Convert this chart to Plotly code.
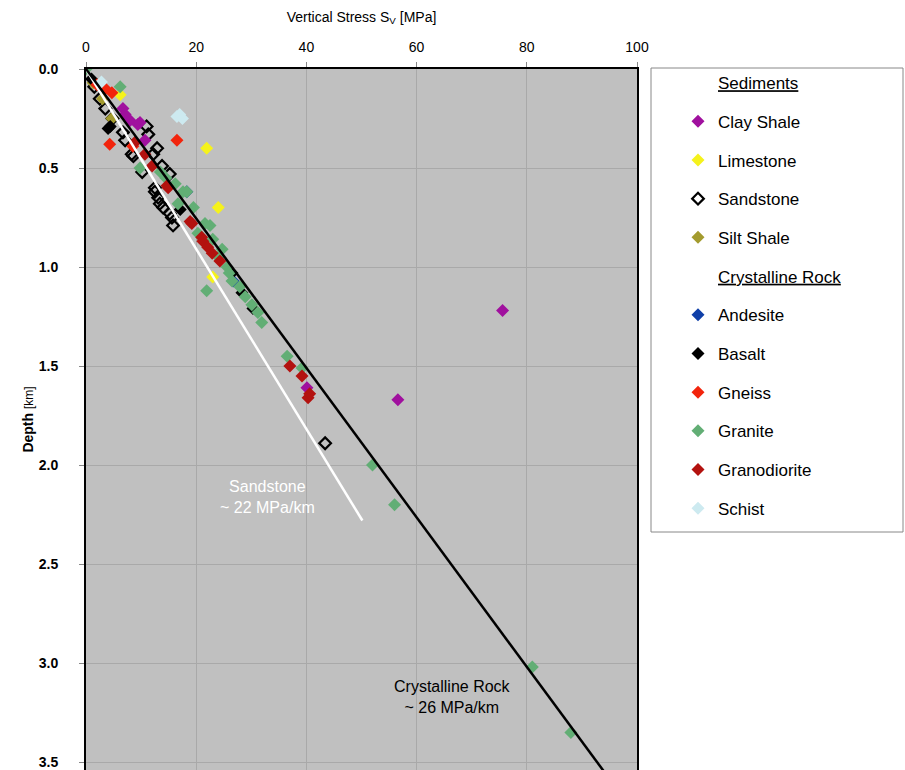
import plotly.graph_objects as go

# ---------------- data (stress in MPa, depth in km) ----------------
clay_shale_sv = [6.7, 7.1, 8.0, 9.4, 9.8, 10.7, 40.1, 56.6, 75.6]
clay_shale_z = [0.20, 0.23, 0.26, 0.28, 0.27, 0.36, 1.61, 1.67, 1.22]

limestone_sv = [6.2, 21.9, 24.0, 23.0]
limestone_z = [0.13, 0.40, 0.70, 1.05]

sandstone_sv = [1.5, 2.5, 3.5, 4.8, 6.7, 7.1, 8.3, 8.6, 10.2, 11.0, 11.3, 12.9, 12.2,
                12.5, 13.8, 15.2, 12.5, 13.1, 13.4, 14.0, 15.2, 15.6, 15.8, 43.4]
sandstone_z = [0.09, 0.15, 0.20, 0.25, 0.32, 0.36, 0.43, 0.44, 0.52, 0.29, 0.33, 0.40, 0.43,
               0.60, 0.49, 0.53, 0.62, 0.65, 0.68, 0.70, 0.73, 0.75, 0.79, 1.89]

silt_shale_sv = [1.3, 3.0, 4.7]
silt_shale_z = [0.07, 0.15, 0.25]

andesite_sv = [18.3, 26.7]
andesite_z = [0.62, 1.07]

basalt_sv = [1.0, 4.0, 4.4, 17.1, 26.5, 28.3, 30.3]
basalt_z = [0.05, 0.30, 0.29, 0.71, 1.03, 1.13, 1.21]

gneiss_sv = [2.0, 3.5, 4.7, 4.3, 8.5, 16.5]
gneiss_z = [0.08, 0.10, 0.12, 0.38, 0.39, 0.36]

granite_sv = [0.0, 6.2, 9.8, 13.5, 14.5, 16.2, 17.6, 18.3, 16.7, 19.5, 21.6, 22.5, 20.3,
              23.0, 24.0, 24.7, 25.6, 26.0, 26.5, 27.9, 21.9, 28.9, 30.1, 31.2, 31.9,
              36.5, 39.2, 52.0, 56.0, 81.0, 88.0]
granite_z = [0.00, 0.09, 0.50, 0.52, 0.55, 0.58, 0.62, 0.62, 0.68, 0.70, 0.78, 0.79, 0.83,
             0.86, 0.95, 0.91, 1.00, 1.03, 1.07, 1.10, 1.12, 1.15, 1.19, 1.23, 1.28,
             1.45, 1.51, 2.00, 2.20, 3.02, 3.35]

granodiorite_sv = [8.9, 10.7, 12.0, 14.7, 14.9, 18.9, 19.2, 21.0, 21.2, 22.1, 22.9, 24.3,
                   37.0, 39.2, 40.3, 40.6]
granodiorite_z = [0.37, 0.43, 0.49, 0.59, 0.60, 0.77, 0.78, 0.85, 0.87, 0.90, 0.93, 0.97,
                  1.50, 1.55, 1.66, 1.64]

schist_sv = [2.8, 16.5, 17.0, 17.5]
schist_z = [0.066, 0.24, 0.23, 0.25]

# gradient lines
crystalline_gradient = 26.5   # MPa/km
sandstone_gradient = 22.0     # MPa/km
crystalline_depths = [0.0, 3.6]
sandstone_depths = [0.0, 2.28]

x_ticks = [0, 20, 40, 60, 80, 100]
y_ticks = [0.0, 0.5, 1.0, 1.5, 2.0, 2.5, 3.0, 3.5]

FONT = "Liberation Sans, Arial, sans-serif"

fig = go.Figure()

# (name, x, y, color, symbol, legend rank)
series = [
    ("Sandstone", sandstone_sv, sandstone_z, "black", "diamond-open", 3),
    ("Clay Shale", clay_shale_sv, clay_shale_z, "#A0109E", "diamond", 1),
    ("Silt Shale", silt_shale_sv, silt_shale_z, "#A39B2E", "diamond", 4),
    ("Limestone", limestone_sv, limestone_z, "#F5F21C", "diamond", 2),
    ("Andesite", andesite_sv, andesite_z, "#1040A8", "diamond", 6),
    ("Basalt", basalt_sv, basalt_z, "black", "diamond", 7),
    ("Gneiss", gneiss_sv, gneiss_z, "#F2240C", "diamond", 8),
    ("Schist", schist_sv, schist_z, "#CDEAF0", "diamond", 11),
    ("Granite", granite_sv, granite_z, "#62AE75", "diamond", 9),
    ("Granodiorite", granodiorite_sv, granodiorite_z, "#B3120F", "diamond", 10),
]

for name, xs, ys, col, sym, rank in series:
    if sym == "diamond-open":
        marker = dict(symbol=sym, size=9, color=col, line=dict(width=2.2, color=col))
    else:
        marker = dict(symbol=sym, size=10, color=col, line=dict(width=0))
    fig.add_trace(go.Scatter(
        x=xs, y=ys, mode="markers", name=name, marker=marker,
        legendgroup=name, legendrank=rank * 10 + 10,
    ))

# legend headers (no visible marker)
for header, rank in [("Sediments", 0), ("Crystalline Rock", 5)]:
    fig.add_trace(go.Scatter(
        x=[None], y=[None], mode="markers", name="<u>" + header + "</u>",
        marker=dict(color="rgba(0,0,0,0)", size=6),
        legendgroup=header, legendrank=rank * 10 + 10,
    ))

# gradient lines
fig.add_trace(go.Scatter(
    x=[d * sandstone_gradient for d in sandstone_depths], y=sandstone_depths,
    mode="lines", line=dict(color="white", width=2.5), showlegend=False, hoverinfo="skip"))
fig.add_trace(go.Scatter(
    x=[d * crystalline_gradient for d in crystalline_depths], y=crystalline_depths,
    mode="lines", line=dict(color="black", width=2.5), showlegend=False, hoverinfo="skip"))

fig.add_annotation(x=33, y=2.16, xref="x", yref="y", showarrow=False,
                   text="Sandstone<br>~ 22 MPa/km",
                   font=dict(family=FONT, size=16, color="white"))
fig.add_annotation(x=66.6, y=3.17, xref="x", yref="y", showarrow=False,
                   text="Crystalline Rock<br>~ 26 MPa/km",
                   font=dict(family=FONT, size=16, color="black"))

# legend box
fig.add_shape(type="rect", xref="paper", yref="paper",
              x0=(651 - 86) / 551, x1=(903 - 86) / 551,
              y0=1 - (532 - 69) / 701, y1=1 + (69 - 68) / 701,
              line=dict(color="#888888", width=1), fillcolor="white", layer="below")

fig.update_layout(
    width=905, height=770,
    margin=dict(l=86, r=268, t=69, b=0),
    paper_bgcolor="white", plot_bgcolor="#C0C0C0",
    font=dict(family=FONT, size=14, color="black"),
    showlegend=True,
    legend=dict(x=(678 - 86) / 551, y=1 + 4 / 701, xanchor="left", yanchor="top",
                bgcolor="rgba(0,0,0,0)", borderwidth=0, maxheight=720,
                font=dict(family=FONT, size=17, color="black"),
                traceorder="grouped", tracegroupgap=13.6, itemsizing="trace"),
    xaxis=dict(range=[0, 100], side="top", tickvals=x_ticks, automargin=False,
               showgrid=True, gridcolor="#A9A9A9", gridwidth=1, zeroline=False,
               showline=True, linecolor="black", linewidth=2, mirror=True,
               ticks="outside", ticklen=5, tickcolor="#888888", ticklabelstandoff=4,
               tickfont=dict(family=FONT, size=14),
               title=dict(text="Vertical Stress S<sub>V</sub> [MPa]",
                          font=dict(family=FONT, size=14), standoff=14)),
    yaxis=dict(range=[3.54, 0], tickvals=y_ticks, tickformat=".1f", automargin=False,
               showgrid=True, gridcolor="#A9A9A9", gridwidth=1, zeroline=False,
               showline=True, linecolor="black", linewidth=2, mirror=True,
               ticks="outside", ticklen=5, tickcolor="#888888", ticklabelstandoff=18,
               tickfont=dict(family=FONT, size=14, weight="bold"),
               title=dict(text="<b>Depth</b> <span style='font-size:12px'>[km]</span>",
                          font=dict(family=FONT, size=14), standoff=2)),
)

fig.write_html("out.html", config={"displayModeBar": False},
               post_script="document.body.style.margin='0';document.body.style.padding='0';")
